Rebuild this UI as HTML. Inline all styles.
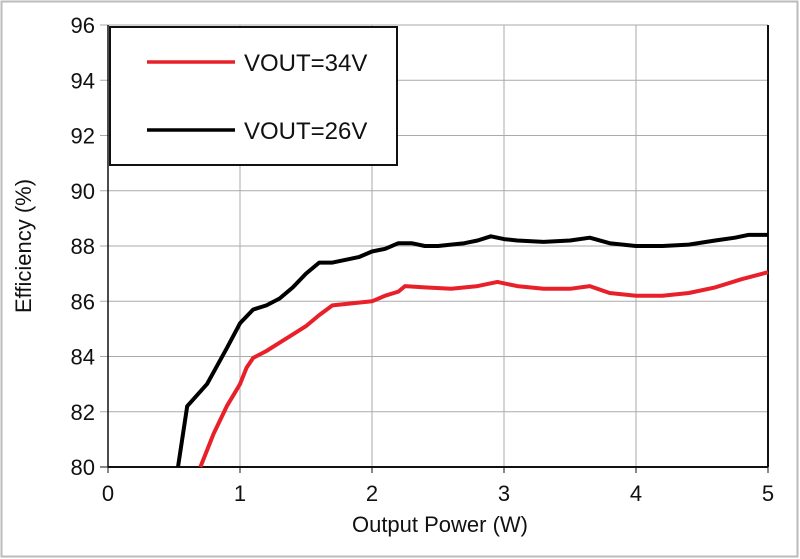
<!DOCTYPE html>
<html><head><meta charset="utf-8"><style>
html,body{margin:0;padding:0;background:#fff;}
svg{display:block;font-family:"Liberation Sans",Arial,sans-serif;}
</style></head><body>
<svg id="s" width="800" height="559" viewBox="0 0 800 559" xmlns="http://www.w3.org/2000/svg">
<rect x="1.5" y="1.5" width="796" height="555" fill="#fff" stroke="#bbb" stroke-width="2"/>
<g id="grid" stroke="#aaa" stroke-width="1"></g>
<g id="lab" font-size="22" fill="#111"></g>
<line x1="108" y1="467" x2="768" y2="467" stroke="#111" stroke-width="2"/>
<line x1="108" y1="25" x2="108" y2="467" stroke="#111" stroke-width="1.5"/>
<line x1="768" y1="25" x2="768" y2="467" stroke="#111" stroke-width="2"/>
<polyline id="blk" fill="none" stroke="#000" stroke-width="4" stroke-linejoin="round"/>
<polyline id="red" fill="none" stroke="#e8202a" stroke-width="4" stroke-linejoin="round"/>
<rect x="110" y="27" width="287" height="138" fill="#fff" stroke="#111" stroke-width="2"/>
<line x1="147" y1="62" x2="235" y2="62" stroke="#e8202a" stroke-width="3.5"/>
<line x1="147" y1="130" x2="235" y2="130" stroke="#000" stroke-width="3.5"/>
<text x="244" y="71" font-size="24" fill="#111">VOUT=34V</text>
<text x="244" y="139" font-size="24" fill="#111">VOUT=26V</text>
<text x="440" y="532" font-size="22" fill="#111" text-anchor="middle">Output Power (W)</text>
<text transform="translate(31,246) rotate(-90)" font-size="22" fill="#111" text-anchor="middle">Efficiency (%)</text>
</svg>
<script>
var X=w=>108+132*w, Y=e=>467-27.625*(e-80);
var g=document.getElementById('grid'),l=document.getElementById('lab'),ns='http://www.w3.org/2000/svg';
function el(p,t,a,txt){var e=document.createElementNS(ns,t);for(var k in a)e.setAttribute(k,a[k]);if(txt!=null)e.textContent=txt;p.appendChild(e);}
for(var i=0;i<=5;i++){if(i>0&&i<5)el(g,'line',{x1:X(i),y1:25,x2:X(i),y2:467});el(g,'line',{x1:X(i),y1:467,x2:X(i),y2:473,stroke:'#111'});el(l,'text',{x:X(i),y:501,'text-anchor':'middle'},i);}
for(var e=80;e<=96;e+=2){if(e>80)el(g,'line',{x1:100,y1:Y(e),x2:768,y2:Y(e)});else el(g,'line',{x1:100,y1:Y(e),x2:108,y2:Y(e),stroke:'#111'});el(l,'text',{x:95,y:Y(e)+8,'text-anchor':'end'},e);}
var B=[[0.53,80],[0.6,82.2],[0.75,83],[0.9,84.3],[1.0,85.2],[1.1,85.7],[1.2,85.85],[1.3,86.1],[1.4,86.5],[1.5,87.0],[1.6,87.4],[1.7,87.4],[1.8,87.5],[1.9,87.6],[2.0,87.8],[2.1,87.9],[2.2,88.1],[2.3,88.1],[2.4,88.0],[2.5,88.0],[2.6,88.05],[2.7,88.1],[2.8,88.2],[2.9,88.35],[3.0,88.25],[3.1,88.2],[3.3,88.15],[3.5,88.2],[3.65,88.3],[3.8,88.1],[4.0,88.0],[4.2,88.0],[4.4,88.05],[4.6,88.2],[4.75,88.3],[4.85,88.4],[5,88.4]];
var R=[[0.7,80],[0.8,81.2],[0.9,82.2],[1.0,83.0],[1.05,83.6],[1.1,83.95],[1.2,84.2],[1.3,84.5],[1.4,84.8],[1.5,85.1],[1.6,85.5],[1.7,85.85],[1.8,85.9],[1.9,85.95],[2.0,86.0],[2.1,86.2],[2.2,86.35],[2.25,86.55],[2.4,86.5],[2.6,86.45],[2.8,86.55],[2.95,86.7],[3.1,86.55],[3.3,86.45],[3.5,86.45],[3.65,86.55],[3.8,86.3],[4.0,86.2],[4.2,86.2],[4.4,86.3],[4.6,86.5],[4.8,86.8],[5,87.05]];
function pts(a){return a.map(p=>X(p[0]).toFixed(1)+','+Y(p[1]).toFixed(1)).join(' ');}
document.getElementById('blk').setAttribute('points',pts(B));
document.getElementById('red').setAttribute('points',pts(R));
</script>
</body></html>
